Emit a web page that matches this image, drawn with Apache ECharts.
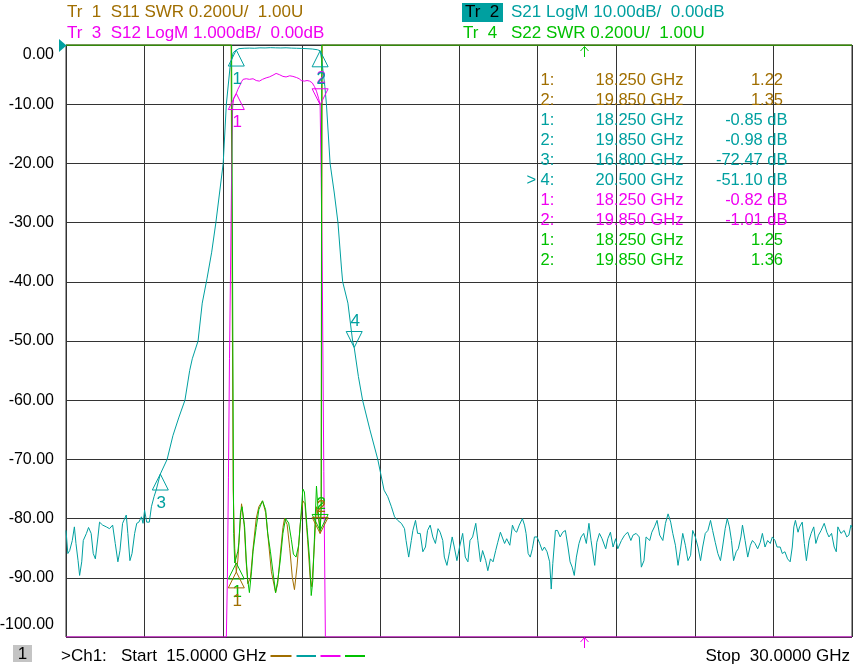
<!DOCTYPE html>
<html><head><meta charset="utf-8">
<script src="https://cdn.jsdelivr.net/npm/echarts@6/dist/echarts.min.js"></script>
<style>html,body{margin:0;padding:0;background:#fff}#c{width:853px;height:667px}</style>
</head><body><div id="c"></div>
<script>
const BROWN = '#A06E00', TEAL = '#00A0A0', MAG = '#F000F0', GREEN = '#00C000';
const FONT = '"Liberation Sans", Arial, sans-serif';

// S21 LogM (dB)
const s21Freq = [15.00,15.035,15.07,15.12,15.16,15.19,15.23,15.26,15.30,15.33,15.39,15.43,15.48,15.52,15.56,15.61,15.64,15.70,15.77,15.83,15.89,15.94,15.99,16.03,16.08,16.15,16.18,16.22,16.26,16.31,16.35,16.39,16.44,16.47,16.50,16.54,16.59,16.63,16.68,16.72,
16.80,16.93,17.04,17.15,17.27,17.36,17.41,17.52,17.60,17.69,17.78,17.86,17.93,18.00,18.06,18.13,18.19,18.25,18.30,18.40,18.50,18.60,18.70,18.80,18.90,19.00,19.10,19.20,19.30,19.40,19.50,19.60,19.70,19.80,19.85,19.88,19.94,19.97,20.04,20.12,20.19,20.26,20.28,20.38,20.47,20.50,20.58,20.66,20.80,20.95,
21.07,21.14,21.21,21.27,21.33,21.40,21.46,21.49,21.54,21.59,21.62,21.67,21.71,21.76,21.81,21.86,21.90,21.95,22.00,22.05,22.10,22.14,22.19,22.22,22.27,22.32,22.37,22.41,22.46,22.51,22.57,22.62,22.67,22.71,22.76,22.82,22.86,22.91,22.95,23.01,23.05,23.10,23.15,23.20,23.24,23.29,23.32,23.37,23.41,23.47,23.52,23.56,23.60,23.65,23.71,23.75,23.78,23.82,23.86,23.90,23.94,23.99,24.04,24.09,24.13,24.18,24.23,24.26,24.29,24.34,24.38,24.43,24.48,24.53,24.58,24.62,24.66,24.70,24.74,24.79,24.83,24.88,24.93,24.98,25.02,25.09,25.13,25.18,25.23,25.30,25.34,25.39,25.44,25.49,25.53,
25.60,25.66,25.72,25.78,25.82,25.88,25.94,25.98,26.03,26.07,26.14,26.18,26.23,26.28,26.33,26.39,26.44,26.49,26.54,26.58,26.63,26.68,26.72,26.77,26.82,26.87,26.92,26.96,27.01,27.06,27.11,27.15,27.20,27.25,27.30,27.34,27.39,27.44,27.49,27.53,27.58,27.62,27.66,27.70,27.74,27.79,27.83,27.88,27.91,27.96,28.01,28.06,28.10,28.15,28.20,28.25,28.29,28.34,28.39,28.44,28.48,28.53,28.57,28.63,28.67,28.72,28.77,28.82,28.86,28.89,28.92,28.97,29.00,29.05,29.09,29.13,29.18,29.22,29.27,29.31,29.36,29.41,29.47,29.52,29.56,29.61,29.66,29.70,29.73,29.79,29.85,29.90,29.94,29.98,30.00];
const s21Val = [-82.0,-85.9,-85.4,-83.7,-81.4,-84.2,-87.1,-89.6,-87.3,-83.7,-82.5,-81.5,-82.5,-85.9,-86.8,-83.1,-80.6,-81.1,-81.4,-81.7,-81.1,-84.2,-87.3,-85.4,-80.8,-79.4,-82.5,-87.1,-85.9,-82.5,-80.8,-80.6,-79.7,-80.8,-78.6,-80.6,-80.6,-78.0,-76.3,-75.2,
-72.47,-70,-66,-63,-60,-55,-53,-50,-43.6,-39.5,-35,-30,-25,-20,-10,-3.8,-1.3,-0.85,-0.62,-0.55,-0.52,-0.55,-0.48,-0.50,-0.45,-0.48,-0.50,-0.47,-0.52,-0.55,-0.58,-0.62,-0.68,-0.80,-0.98,-2.5,-7,-10,-20,-25,-30,-38,-40,-43.6,-50,-51.10,-56,-60,-65,-70,
-75.2,-76.3,-78.0,-79.7,-80.3,-80.8,-81.7,-83.7,-86.5,-83.7,-82.0,-80.3,-82.5,-82.5,-85.6,-84.8,-82.0,-81.1,-83.1,-84.2,-81.7,-82.3,-83.7,-86.5,-87.9,-85.6,-83.1,-84.8,-87.1,-84.8,-82.5,-86.5,-87.3,-83.7,-83.1,-80.8,-83.7,-87.3,-85.4,-87.1,-88.8,-86.8,-87.3,-85.4,-84.0,-82.3,-82.0,-84.2,-83.4,-84.5,-81.1,-82.0,-82.3,-81.1,-80.0,-81.1,-82.5,-85.9,-86.5,-85.1,-83.1,-83.1,-84.2,-85.4,-84.8,-85.6,-87.3,-91.9,-87.6,-82.0,-82.0,-83.1,-82.3,-82.0,-84.8,-87.3,-88.2,-89.6,-86.5,-84.2,-83.1,-82.5,-84.2,-80.8,-83.7,-87.9,-84.0,-82.5,-83.4,-85.1,-83.4,-82.3,-84.8,-83.4,-85.1,
-83.7,-82.8,-82.3,-83.7,-82.8,-82.5,-83.1,-88.2,-87.1,-83.1,-83.7,-82.3,-81.4,-80.3,-82.8,-83.7,-80.8,-79.2,-80.6,-82.5,-84.5,-87.9,-85.6,-82.5,-84.5,-87.1,-86.2,-82.0,-83.1,-84.8,-87.1,-84.8,-82.5,-82.0,-80.3,-82.0,-84.0,-85.9,-87.1,-84.8,-81.7,-80.0,-81.4,-83.7,-87.1,-85.6,-85.1,-83.1,-81.1,-83.7,-86.5,-84.5,-83.7,-84.2,-85.1,-84.0,-82.5,-84.8,-83.7,-84.2,-83.1,-83.7,-84.8,-84.8,-85.9,-85.6,-86.8,-87.3,-84.8,-81.4,-80.3,-82.3,-81.4,-80.6,-84.2,-87.1,-83.7,-82.5,-81.4,-84.2,-82.8,-82.0,-80.8,-82.3,-83.1,-82.5,-84.8,-85.6,-81.4,-82.5,-82.0,-83.1,-82.8,-81.1,-81.5];

// S12 LogM (dB), shown values (clipped at -10 = bottom of 1 dB/div scale)
const s12Freq = [15.00,18.06,18.08,18.10,18.12,18.14,18.16,18.18,18.20,18.22,18.25,18.28,18.32,18.35,18.38,18.44,18.50,18.57,18.63,18.69,18.75,18.82,18.88,18.95,19.01,19.07,19.14,19.20,19.27,19.33,19.40,19.45,19.49,19.55,19.60,19.65,19.70,19.74,19.78,19.82,19.85,19.87,19.89,19.92,19.95,30.00];
const s12Val = [-10,-10,-9.0,-7.3,-5.3,-3.8,-2.2,-1.05,-0.9,-0.88,-0.82,-0.75,-0.68,-0.62,-0.58,-0.57,-0.58,-0.57,-0.60,-0.61,-0.58,-0.555,-0.54,-0.51,-0.48,-0.50,-0.53,-0.54,-0.52,-0.53,-0.55,-0.57,-0.60,-0.61,-0.60,-0.61,-0.64,-0.70,-0.78,-0.90,-1.01,-2.25,-3.8,-7.2,-10,-10];

// S11 SWR, shown values (clipped at 3.00 = top of 0.2U/div scale)
const s11Freq = [15.00,18.15,18.19,18.22,18.25,18.28,18.31,18.35,18.40,18.44,18.47,18.52,18.57,18.63,18.68,18.75,18.81,18.86,18.92,19.00,19.04,19.09,19.14,19.17,19.22,19.27,19.32,19.36,19.41,19.47,19.52,19.56,19.61,19.66,19.69,19.73,19.78,19.82,19.85,19.87,19.89,30.00];
const s11Val = [3.0,3.0,1.5,1.3,1.22,1.26,1.35,1.45,1.38,1.25,1.18,1.20,1.30,1.40,1.44,1.46,1.42,1.33,1.22,1.15,1.18,1.28,1.37,1.40,1.38,1.30,1.20,1.16,1.24,1.38,1.46,1.45,1.33,1.20,1.17,1.28,1.44,1.40,1.35,1.45,3.0,3.0];

// S22 SWR
const s22Freq = [15.00,18.16,18.20,18.22,18.25,18.28,18.30,18.33,18.36,18.41,18.44,18.47,18.50,18.54,18.57,18.63,18.68,18.75,18.81,18.85,18.90,18.95,19.00,19.04,19.09,19.14,19.19,19.22,19.25,19.30,19.34,19.39,19.44,19.48,19.52,19.55,19.60,19.65,19.68,19.71,19.74,19.78,19.81,19.85,19.87,19.88,30.00];
const s22Val = [3.0,3.0,1.35,1.25,1.25,1.29,1.32,1.42,1.44,1.37,1.26,1.19,1.15,1.22,1.29,1.37,1.43,1.46,1.43,1.35,1.29,1.22,1.15,1.19,1.26,1.35,1.40,1.405,1.385,1.33,1.28,1.27,1.31,1.40,1.50,1.49,1.37,1.26,1.14,1.19,1.33,1.51,1.43,1.36,1.43,3.0,3.0];

// markers: [freq, value, label, direction(1 = up triangle, -1 = down/active)]
const s11Markers = [[18.25, 1.22, '1', 1], [19.85, 1.35, '2', -1]];
const s21Markers = [[18.25, -0.85, '1', 1], [19.85, -0.98, '2', 1], [16.80, -72.47, '3', 1], [20.50, -51.10, '4', -1]];
const s12Markers = [[18.25, -0.82, '1', 1], [19.85, -1.01, '2', -1]];
const s22Markers = [[18.25, 1.25, '1', 1], [19.85, 1.36, '2', -1]];

// marker readout table
const tableRows = [
  ['1:', '18.250 GHz', '1.22', BROWN, false],
  ['2:', '19.850 GHz', '1.35', BROWN, false],
  ['1:', '18.250 GHz', '-0.85 dB', TEAL, false],
  ['2:', '19.850 GHz', '-0.98 dB', TEAL, false],
  ['3:', '16.800 GHz', '-72.47 dB', TEAL, false],
  ['4:', '20.500 GHz', '-51.10 dB', TEAL, true],
  ['1:', '18.250 GHz', '-0.82 dB', MAG, false],
  ['2:', '19.850 GHz', '-1.01 dB', MAG, false],
  ['1:', '18.250 GHz', '1.25', GREEN, false],
  ['2:', '19.850 GHz', '1.36', GREEN, false]
];

const pairs = (f, v) => f.map((x, i) => [x, v[i]]);

function lineSeries(name, f, v, yIdx, color, z) {
  return { type: 'line', name, yAxisIndex: yIdx, data: pairs(f, v), showSymbol: false, symbol: 'none',
    lineStyle: { color, width: 1 }, itemStyle: { color }, z, animation: false, silent: true };
}
function markerSeries(name, m, yIdx, color, z) {
  return {
    type: 'custom', name, yAxisIndex: yIdx, z, silent: true, clip: false, animation: false,
    data: m.map(d => [d[0], d[1], d[3]]),
    renderItem: (params, api) => {
      const p = api.coord([api.value(0), api.value(1)]);
      const dir = api.value(2);
      const lab = m[params.dataIndex][2];
      const h = 16, w = 8;
      const by = p[1] + dir * h;
      return { type: 'group', children: [
        { type: 'polygon', shape: { points: [[p[0], p[1]], [p[0] - w, by], [p[0] + w, by]] },
          style: { fill: 'none', stroke: color, lineWidth: 1 } },
        { type: 'text', x: p[0] + 1, y: dir > 0 ? by + 13 : by - 10,
          style: { text: lab, fill: color, font: '17px ' + FONT, align: 'center', verticalAlign: 'middle' } }
      ]};
    }
  };
}

const g = [];
function txt(x, y, text, color, align, size) {
  g.push({ type: 'text', x, y, silent: true, z: 100,
    style: { text, fill: color, font: (size || 17) + 'px ' + FONT, align: align || 'left', verticalAlign: 'middle' } });
}
// header
txt(67, 12.5, 'Tr  1  S11 SWR 0.200U/  1.00U', BROWN);
txt(67, 33, 'Tr  3  S12 LogM 1.000dB/  0.00dB', MAG);
g.push({ type: 'rect', shape: { x: 462, y: 3, width: 41, height: 19 }, style: { fill: TEAL }, silent: true, z: 99 });
txt(465, 12.5, 'Tr  2', '#000');
txt(511, 12.5, 'S21 LogM 10.00dB/  0.00dB', TEAL);
txt(463, 33, 'Tr  4', GREEN);
txt(511, 33, 'S22 SWR 0.200U/  1.00U', GREEN);
// table
tableRows.forEach((r, i) => {
  const y = 80.5 + 20 * i;
  if (r[4]) txt(526.5, y, '>', r[3], 'left', 16.5);
  txt(540.5, y, r[0], r[3], 'left', 16.5);
  txt(683.5, y, r[1], r[3], 'right', 16.5);
  txt(r[2].indexOf('dB') >= 0 ? 787.5 : 783, y, r[2], r[3], 'right', 16.5);
});
// footer
g.push({ type: 'rect', shape: { x: 13, y: 645, width: 19, height: 17 }, style: { fill: '#C4C4C4' }, silent: true, z: 99 });
txt(22.5, 654, '1', '#000', 'center');
txt(61, 656, '>Ch1:   Start  15.0000 GHz', '#000');
txt(850, 656, 'Stop  30.0000 GHz', '#000', 'right');
[[270.5, 291.5, BROWN], [296.5, 316, TEAL], [320.5, 340.5, MAG], [345, 365, GREEN]].forEach(s => {
  g.push({ type: 'line', shape: { x1: s[0], y1: 656, x2: s[1], y2: 656 }, style: { stroke: s[2], lineWidth: 2 }, silent: true, z: 99 });
});
// reference arrow (active trace) and off-scale indicators
g.push({ type: 'polygon', shape: { points: [[59, 39], [66.5, 45.5], [59, 52]] }, style: { fill: TEAL }, silent: true, z: 99 });
g.push({ type: 'polyline', shape: { points: [[584.5, 47], [584.5, 57]] }, style: { stroke: GREEN, lineWidth: 1 }, silent: true, z: 99 });
g.push({ type: 'polyline', shape: { points: [[580.5, 51], [584.5, 46.5], [588.5, 51]] }, style: { stroke: GREEN, lineWidth: 1, fill: 'none' }, silent: true, z: 99 });
g.push({ type: 'polyline', shape: { points: [[584.5, 638], [584.5, 648]] }, style: { stroke: MAG, lineWidth: 1 }, silent: true, z: 99 });
g.push({ type: 'polyline', shape: { points: [[580.5, 642], [584.5, 637.5], [588.5, 642]] }, style: { stroke: MAG, lineWidth: 1, fill: 'none' }, silent: true, z: 99 });

const chart = echarts.init(document.getElementById('c'), null, { renderer: 'canvas' });
chart.setOption({
  animation: false,
  backgroundColor: '#fff',
  grid: { left: 66, top: 45, width: 786, height: 592, show: true, borderColor: '#333', borderWidth: 1,
    backgroundColor: 'transparent', containLabel: false, outerBoundsMode: 'none' },
  xAxis: { type: 'value', min: 15, max: 30, interval: 1.5,
    axisLine: { show: false }, axisTick: { show: false }, axisLabel: { show: false },
    splitLine: { show: true, lineStyle: { color: '#333', width: 1 } } },
  yAxis: [
    { type: 'value', min: -100, max: 0, interval: 10,
      axisLine: { show: false }, axisTick: { show: false },
      splitLine: { show: true, lineStyle: { color: '#333', width: 1 } },
      axisLabel: { margin: 12, color: '#000', fontSize: 16, fontFamily: FONT,
        formatter: v => Math.abs(v) < 1e-9 ? '{t|0.00}' : (Math.abs(v + 100) < 1e-9 ? '{b|-100.00}' : v.toFixed(2)),
        rich: { t: { padding: [20, 0, 0, 0], fontSize: 16, color: '#000', fontFamily: FONT },
                b: { padding: [0, 0, 24, 0], fontSize: 16, color: '#000', fontFamily: FONT } } } },
    { type: 'value', min: -10, max: 0, show: false, splitLine: { show: false } },
    { type: 'value', min: 1, max: 3, show: false, splitLine: { show: false } }
  ],
  series: [
    lineSeries('S11', s11Freq, s11Val, 2, BROWN, 2),
    lineSeries('S21', s21Freq, s21Val, 0, TEAL, 3),
    lineSeries('S12', s12Freq, s12Val, 1, MAG, 4),
    lineSeries('S22', s22Freq, s22Val, 2, GREEN, 5),
    markerSeries('S12 markers', s12Markers, 1, MAG, 10),
    markerSeries('S21 markers', s21Markers, 0, TEAL, 11),
    markerSeries('S22 markers', s22Markers, 2, GREEN, 12),
    markerSeries('S11 markers', s11Markers, 2, BROWN, 13)
  ],
  graphic: g
});
</script></body></html>
